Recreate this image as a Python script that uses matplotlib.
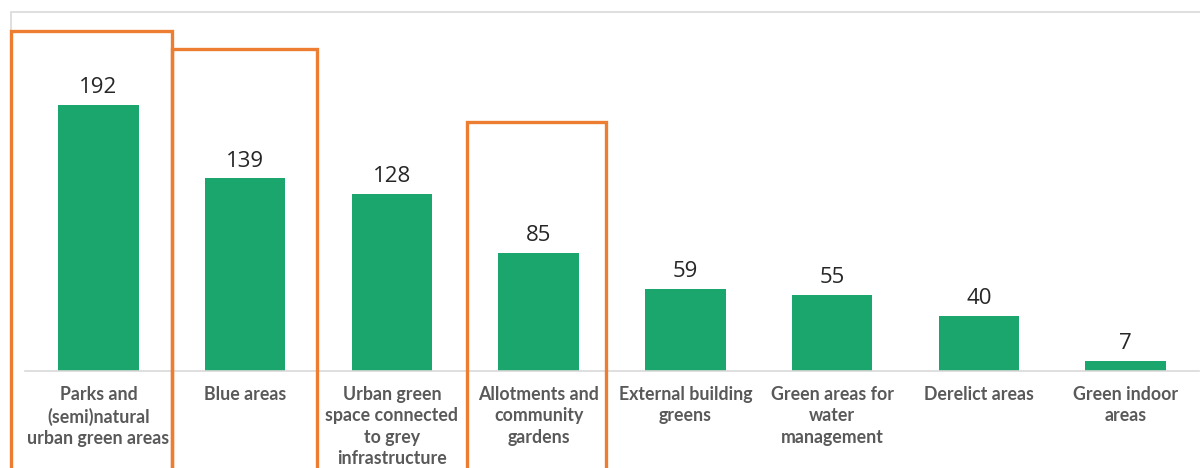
import matplotlib.pyplot as plt
from matplotlib.patches import Rectangle

plt.rcParams['font.family'] = ['Lato', 'DejaVu Sans']

categories = [
    "Parks and\n(semi)natural\nurban green areas",
    "Blue areas",
    "Urban green\nspace connected\nto grey\ninfrastructure",
    "Allotments and\ncommunity\ngardens",
    "External building\ngreens",
    "Green areas for\nwater\nmanagement",
    "Derelict areas",
    "Green indoor\nareas",
]
counts = [192, 139, 128, 85, 59, 55, 40, 7]
highlighted = [0, 1, 3]

W, H = 1200, 468
fig = plt.figure(figsize=(12, 4.68), dpi=100)

# plot area in pixel terms: x 25..1199, y 12..371 (from top)
ax = fig.add_axes([25 / W, (H - 371) / H, 1174 / W, 359 / H])
x = range(len(counts))
ax.bar(x, counts, width=0.55, color="#1aa66c", zorder=2)
ax.set_xlim(-0.5, len(counts) - 0.5)
ax.set_ylim(0, 359 / 1.385)

for i, v in zip(x, counts):
    ax.text(i, v + 5, str(v), ha="center", va="bottom", fontsize=16,
            color="#262626", family=["Open Sans", "DejaVu Sans"])

ax.set_xticks(list(x))
ax.set_xticklabels(categories, fontsize=12.8, fontweight="bold",
                   color="#595959", linespacing=1.3, va="top")
ax.tick_params(axis="x", length=0, pad=11)
ax.set_yticks([])
for s in ["top", "left", "right"]:
    ax.spines[s].set_visible(False)
ax.spines["bottom"].set_color("#d9d9d9")
ax.spines["bottom"].set_linewidth(1.2)


def px_rect(x0, y0, x1, y1, **kw):
    # rectangle given in pixel coordinates measured from the top-left
    return Rectangle((x0 / W, 1 - y1 / H), (x1 - x0) / W, (y1 - y0) / H,
                     transform=fig.transFigure, fill=False, **kw)


# chart frame
fig.add_artist(px_rect(11, 12, 1215, 480, edgecolor="#d9d9d9", linewidth=1.2))

# orange highlight boxes around selected categories
boxes = {0: (11, 31, 172), 1: (172, 49, 317), 3: (467, 122, 606)}
for i in highlighted:
    x0, y0, x1 = boxes[i]
    fig.add_artist(px_rect(x0, y0, x1, 480, edgecolor="#ed7d31", linewidth=2.4))

fig.savefig("out.png", dpi=100)
